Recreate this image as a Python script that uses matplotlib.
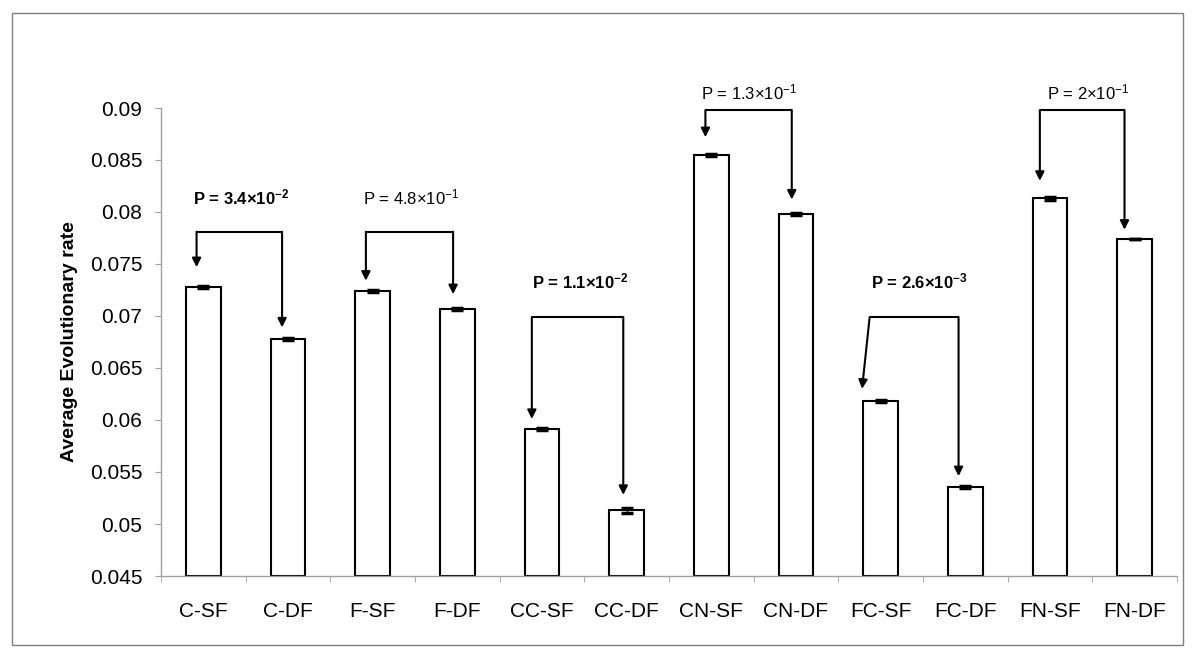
import matplotlib
matplotlib.use("Agg")
import matplotlib.pyplot as plt
from matplotlib.patches import Rectangle

plt.rcParams['font.family'] = ['Liberation Sans', 'DejaVu Sans']
plt.rcParams['mathtext.default'] = 'regular'

# Data
Categories = ["C-SF", "C-DF", "F-SF", "F-DF", "CC-SF", "CC-DF",
              "CN-SF", "CN-DF", "FC-SF", "FC-DF", "FN-SF", "FN-DF"]
Rates = [0.0728, 0.0678, 0.0724, 0.0707, 0.0591, 0.0513,
         0.0855, 0.0798, 0.0618, 0.0536, 0.0813, 0.0774]
Errors = [0.0001, 0.0001, 0.0001, 0.0001, 0.0001, 0.00022,
          0.0001, 0.0001, 0.0001, 0.0001, 0.0001, 0.0]

# comparison pairs (index of first bar), p value text, bold when significant
PairStart = [0, 2, 4, 6, 8, 10]
PLabels = ["P = 3.4×10$^{-2}$", "P = 4.8×10$^{-1}$", "P = 1.1×10$^{-2}$",
           "P = 1.3×10$^{-1}$", "P = 2.6×10$^{-3}$", "P = 2×10$^{-1}$"]
PBold = [True, False, True, False, True, False]
BracketY = [0.0781, 0.0781, 0.0699, 0.0898, 0.0699, 0.0898]
LabelY = [0.0814, 0.0814, 0.0733, 0.0915, 0.0733, 0.0915]
LeftTip = [0.0747, 0.0734, 0.0601, 0.0872, 0.0630, 0.0830]
RightTip = [0.0689, 0.0721, 0.0528, 0.0812, 0.0546, 0.0783]
LeftOff = [-0.08, -0.08, -0.12, -0.07, -0.13, -0.12]
LeftTipOff = [-0.08, -0.08, -0.12, -0.07, -0.22, -0.12]
RightOff = [-0.07, -0.05, -0.04, -0.05, -0.08, -0.12]

fig = plt.figure(figsize=(12, 6.64), dpi=100)
ax = fig.add_axes([161 / 1200, 1 - 576 / 664, 1016 / 1200, 468 / 664])

# outer frame
fig.patches.append(Rectangle((12 / 1200, 1 - 645 / 664), 1171 / 1200, 632 / 664,
                             transform=fig.transFigure, fill=False,
                             edgecolor="#808080", linewidth=1))

x = [i + 0.5 for i in range(len(Categories))]
ax.bar(x, [r - 0.045 for r in Rates], bottom=0.045, width=0.41,
       color="white", edgecolor="black", linewidth=1.5, zorder=2)
ax.errorbar(x, Rates, yerr=Errors, fmt="none", ecolor="black",
            elinewidth=1, capsize=4, capthick=2.5, zorder=3)

# brackets with arrows
for i, start in enumerate(PairStart):
    xl = x[start] + LeftOff[i]
    xlt = x[start] + LeftTipOff[i]
    xr = x[start + 1] + RightOff[i]
    h = BracketY[i]
    ax.plot([xl, xr], [h, h], color="black", linewidth=1.5, zorder=4,
            solid_capstyle="butt")
    ax.annotate("", xy=(xlt, LeftTip[i]), xytext=(xl, h),
                arrowprops=dict(arrowstyle="-|>", color="black", lw=1.5,
                                mutation_scale=13, shrinkA=0, shrinkB=0))
    ax.annotate("", xy=(xr, RightTip[i]), xytext=(xr, h),
                arrowprops=dict(arrowstyle="-|>", color="black", lw=1.5,
                                mutation_scale=13, shrinkA=0, shrinkB=0))
    ax.text((x[start] + x[start + 1]) / 2 - 0.05, LabelY[i], PLabels[i],
            ha="center", va="center", fontsize=12,
            fontweight="bold" if PBold[i] else "normal")

ax.set_xlim(0, 12)
ax.set_ylim(0.045, 0.09)
ax.set_yticks([0.045, 0.05, 0.055, 0.06, 0.065, 0.07, 0.075, 0.08, 0.085, 0.09])
ax.set_yticklabels(["0.045", "0.05", "0.055", "0.06", "0.065", "0.07",
                    "0.075", "0.08", "0.085", "0.09"])
ax.set_xticks(x)
ax.set_xticklabels(Categories)
ax.set_xticks(range(13), minor=True)
ax.tick_params(axis="x", which="major", length=0, pad=19, labelsize=15)
ax.tick_params(axis="x", which="minor", length=4.5, color="#a0a0a0")
ax.tick_params(axis="y", length=4.5, pad=9, labelsize=15, color="#a0a0a0")

for side in ["top", "right"]:
    ax.spines[side].set_visible(False)
for side in ["left", "bottom"]:
    ax.spines[side].set_color("#a0a0a0")
    ax.spines[side].set_linewidth(1)

ax.set_ylabel("Average Evolutionary rate", fontsize=14, fontweight="bold")
ax.yaxis.set_label_coords(-0.082, 0.5)

fig.savefig("out.png", dpi=100)
